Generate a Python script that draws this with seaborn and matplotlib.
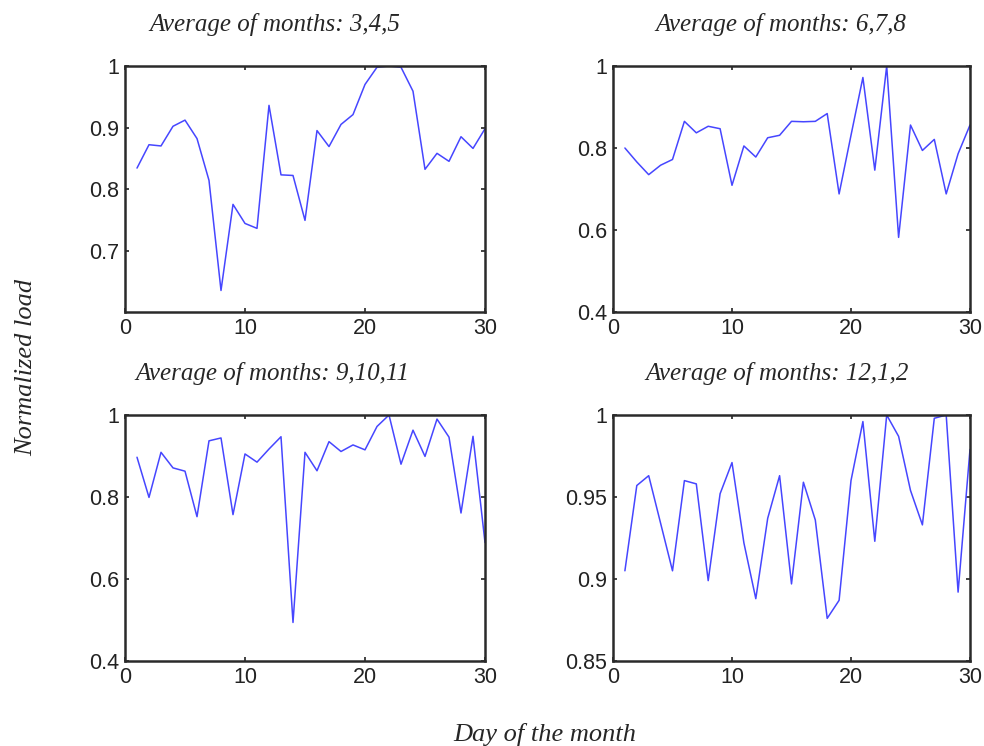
import numpy as np
import pandas as pd
import matplotlib
matplotlib.use("Agg")
import matplotlib.pyplot as plt
import seaborn as sns

days = list(range(1, 31))

spring = [0.834, 0.872, 0.870, 0.902, 0.912, 0.882, 0.814, 0.635, 0.775, 0.744,
          0.736, 0.936, 0.823, 0.822, 0.749, 0.895, 0.869, 0.905, 0.921, 0.970,
          0.998, 1.000, 0.998, 0.959, 0.832, 0.858, 0.845, 0.885, 0.866, 0.898]
summer = [0.800, 0.766, 0.735, 0.758, 0.772, 0.865, 0.837, 0.853, 0.847, 0.709,
          0.805, 0.778, 0.825, 0.831, 0.865, 0.864, 0.865, 0.884, 0.688, 0.831,
          0.972, 0.746, 1.000, 0.582, 0.856, 0.794, 0.821, 0.688, 0.786, 0.856]
autumn = [0.897, 0.799, 0.909, 0.871, 0.863, 0.752, 0.937, 0.944, 0.757, 0.905,
          0.885, 0.917, 0.947, 0.494, 0.909, 0.864, 0.935, 0.911, 0.927, 0.915,
          0.972, 1.000, 0.880, 0.963, 0.899, 0.990, 0.946, 0.761, 0.948, 0.689]
winter = [0.905, 0.957, 0.963, 0.934, 0.905, 0.960, 0.958, 0.899, 0.952, 0.971,
          0.922, 0.888, 0.937, 0.963, 0.897, 0.959, 0.936, 0.876, 0.887, 0.960,
          0.996, 0.923, 1.000, 0.987, 0.954, 0.933, 0.998, 1.000, 0.892, 0.979]

titles = ["Average of months: 3,4,5", "Average of months: 6,7,8",
          "Average of months: 9,10,11", "Average of months: 12,1,2"]
series = [spring, summer, autumn, winter]
ylims = [(0.6, 1.0), (0.4, 1.0), (0.4, 1.0), (0.85, 1.0)]
yticks = [[0.7, 0.8, 0.9, 1.0], [0.4, 0.6, 0.8, 1.0], [0.4, 0.6, 0.8, 1.0],
          [0.85, 0.9, 0.95, 1.0]]
yticklabels = [["0.7", "0.8", "0.9", "1"], ["0.4", "0.6", "0.8", "1"],
               ["0.4", "0.6", "0.8", "1"], ["0.85", "0.9", "0.95", "1"]]

sns.set_style("ticks")
plt.rcParams['font.family'] = ['Liberation Sans', 'DejaVu Sans']

fig = plt.figure(figsize=(9.84, 7.46), dpi=100)
positions = [
    [125 / 984, 1 - 312 / 746, 360 / 984, 246 / 746],
    [613 / 984, 1 - 312 / 746, 357 / 984, 246 / 746],
    [125 / 984, 1 - 661 / 746, 360 / 984, 246 / 746],
    [613 / 984, 1 - 661 / 746, 357 / 984, 246 / 746],
]
# title centres (axes fraction) - titles sit a bit left of centre
title_x = [0.415, 0.47, 0.41, 0.46]

serif = ['Liberation Serif', 'DejaVu Serif']

for i in range(4):
    ax = fig.add_axes(positions[i])
    df = pd.DataFrame({'day': days, 'load': series[i]})
    sns.lineplot(data=df, x='day', y='load', ax=ax, color='#4646ff', linewidth=1.1)
    ax.set_xlim(0, 30)
    ax.set_ylim(*ylims[i])
    ax.set_xticks([0, 10, 20, 30])
    ax.set_yticks(yticks[i])
    ax.set_yticklabels(yticklabels[i])
    ax.set_xlabel('')
    ax.set_ylabel('')
    ax.tick_params(axis='both', which='both', direction='in', top=True, right=True,
                   labelsize=15.5, length=3, width=1.2, colors='#222222', pad=4)
    for s in ax.spines.values():
        s.set_visible(True)
        s.set_linewidth(1.8)
        s.set_color('#2a2a2a')
    ax.set_title(titles[i], fontsize=18, fontstyle='italic', family=serif,
                 x=title_x[i], pad=25)

fig.text(0.027, 0.507, 'Normalized load', rotation=90, ha='center', va='center',
         fontsize=19, fontstyle='italic', family=serif)
fig.text(0.554, 0.016, 'Day of the month', ha='center', va='center',
         fontsize=19, fontstyle='italic', family=serif)

fig.savefig('out.png', dpi=100)
